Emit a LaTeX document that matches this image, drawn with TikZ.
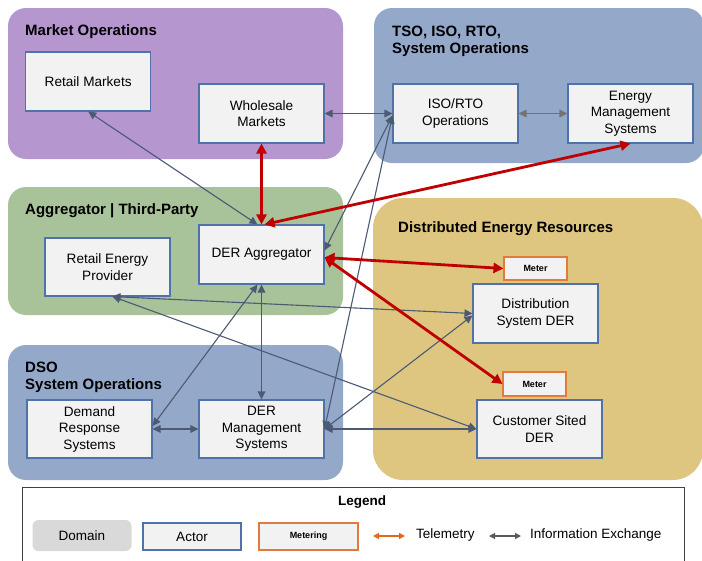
\documentclass[tikz,border=0pt]{standalone}
\usepackage{fontspec}
\setmainfont{Liberation Sans}
\usetikzlibrary{arrows.meta}
\definecolor{mktpurple}{HTML}{B596CF}
\definecolor{opsblue}{HTML}{94A8CA}
\definecolor{aggreen}{HTML}{A8C29A}
\definecolor{dertan}{HTML}{DEC680}
\definecolor{actorfill}{HTML}{F2F2F2}
\definecolor{actorblue}{HTML}{4F72A8}
\definecolor{meterorange}{HTML}{E07B39}
\definecolor{infogray}{HTML}{4C5A74}
\definecolor{telered}{HTML}{C00000}
\definecolor{legdomain}{HTML}{D9D9D9}
\definecolor{legorange}{HTML}{E06A1B}
\definecolor{leggray}{HTML}{5A5A5A}
\tikzset{
  domainbox/.style={rounded corners=18pt, draw=none},
  actor/.style={draw=actorblue, fill=actorfill, line width=1.1pt, minimum width=125pt, minimum height=59pt,
    align=center, inner sep=0pt, font=\fontsize{13.6}{16.5}\selectfont},
  meterbox/.style={draw=meterorange, fill=actorfill, line width=1.1pt, minimum width=63pt, minimum height=23pt,
    inner sep=0pt, font=\fontsize{9}{10}\selectfont\bfseries},
  dtitle/.style={anchor=base west, align=left, inner sep=0pt, font=\fontsize{15}{16.5}\selectfont\bfseries},
  info/.style={draw=infogray, line width=1.1pt, {Triangle[length=8pt,width=7.5pt]}-{Triangle[length=8pt,width=7.5pt]}},
  tele/.style={draw=telered, line width=2.8pt, {Triangle[length=10pt,width=10pt]}-{Triangle[length=10pt,width=10pt]}},
  legtext/.style={inner sep=0pt, font=\fontsize{13.5}{15}\selectfont},
}
\begin{document}
\begin{tikzpicture}[x=1pt,y=-1pt]
\useasboundingbox[fill=white] (0,0) rectangle (702,560);
% domains
\fill[domainbox, mktpurple] (8,8) rectangle (343,159);
\fill[domainbox, opsblue] (374,8) rectangle (704,163);
\fill[domainbox, aggreen] (8,187) rectangle (343,315);
\fill[domainbox, dertan, rounded corners=30pt] (373,198) rectangle (703,480);
\fill[domainbox, opsblue] (8,345) rectangle (343,480);
% domain titles
\node[dtitle] (tmkt) at (25,35) {Market Operations};
\node[dtitle, anchor=north west] (ttso) at (392,26) {TSO, ISO, RTO,\\System Operations};
\node[dtitle] (tagg) at (25,214) {Aggregator | Third-Party};
\node[dtitle] (tder) at (398,232) {Distributed Energy Resources};
\node[dtitle, anchor=north west] (tdso) at (25,362) {DSO\\System Operations};
% actors
\node[actor] (rm) at (88.2,81.5) {Retail Markets};
\node[actor] (wm) at (261.5,113.5) {Wholesale\\Markets};
\node[actor] (iso) at (455.5,113.5) {ISO/RTO\\Operations};
\node[actor] (ems) at (630.5,113.5) {Energy\\Management\\Systems};
\node[actor, minimum height=58pt] (rep) at (107.5,267) {Retail Energy\\Provider};
\node[actor] (dagg) at (261.5,254.5) {DER Aggregator};
\node[meterbox] (m1) at (535.5,268.5) {Meter};
\node[actor] (dsd) at (535.5,313.5) {Distribution\\System DER};
\node[meterbox, minimum height=24pt] (m2) at (534.5,384) {Meter};
\node[actor, minimum height=58pt] (csd) at (539.5,429) {Customer Sited\\DER};
\node[actor, minimum height=58pt] (dr) at (89.5,429) {Demand\\Response\\Systems};
\node[actor, minimum height=58pt] (dmg) at (261.5,429) {DER\\Management\\Systems};
% information exchange
\draw[info] (rm.south) -- ([xshift=-4pt]dagg.north);
\draw[info] (wm.east) -- (iso.west);
\draw[info, draw=gray!90!black] (iso.east) -- (ems.west);
\draw[info] ([yshift=4pt]dagg.east) -- ([yshift=-2pt]iso.west);
\draw[info] (dmg.east) -- ([yshift=-2pt]iso.west);
\draw[info] ([xshift=5pt]rep.south) -- (dsd.west);
\draw[info] ([xshift=5pt]rep.south) -- (csd.west);
\draw[info] (dagg.south) -- (dmg.north);
\draw[info] ([yshift=3pt]dr.east) -- ([xshift=-4pt]dagg.south);
\draw[info] (dr.east) -- (dmg.west);
\draw[info] (dmg.east) -- ([yshift=-2pt]dsd.west);
\draw[info] (dmg.east) -- (csd.west);
% telemetry
\draw[tele] (wm.south) -- (dagg.north);
\draw[tele] (ems.south) -- ([xshift=3pt]dagg.north);
\draw[tele] ([yshift=-3pt]dagg.east) -- (m1.west);
\draw[tele] ([yshift=-3pt]dagg.east) -- (m2.west);
% legend
\draw[draw=black!75, line width=1pt] (22.5,565) -- (22.5,487) -- (684,487) -- (684,565);
\node[inner sep=0pt, font=\fontsize{13.5}{15}\selectfont\bfseries, anchor=base] (legt) at (362,505) {Legend};
\node[fill=legdomain, rounded corners=6pt, minimum width=99pt, minimum height=31pt, legtext] (ldom) at (82,535.5) {Domain};
\node[draw=actorblue, fill=actorfill, line width=1.1pt, minimum width=98pt, minimum height=27pt, legtext] (lact) at (192,536.5) {Actor};
\node[draw=meterorange, fill=actorfill, line width=1.1pt, minimum width=99pt, minimum height=27pt, inner sep=0pt, font=\fontsize{9}{10}\selectfont\bfseries] (lmet) at (308.5,536.5) {Metering};
\coordinate (ta1) at (373,536);
\coordinate (ta2) at (405,536);
\draw[draw=legorange, line width=1.4pt, {Triangle[length=6pt,width=6pt]}-{Triangle[length=6pt,width=6pt]}] (ta1) -- (ta2);
\node[legtext, anchor=west] (ltel) at (416,535) {Telemetry};
\coordinate (ia1) at (489,536);
\coordinate (ia2) at (521,536);
\draw[draw=leggray, line width=1.2pt, {Triangle[length=6pt,width=6pt]}-{Triangle[length=6pt,width=6pt]}] (ia1) -- (ia2);
\node[legtext, anchor=west] (linf) at (530,535) {Information Exchange};
\end{tikzpicture}
\end{document}
